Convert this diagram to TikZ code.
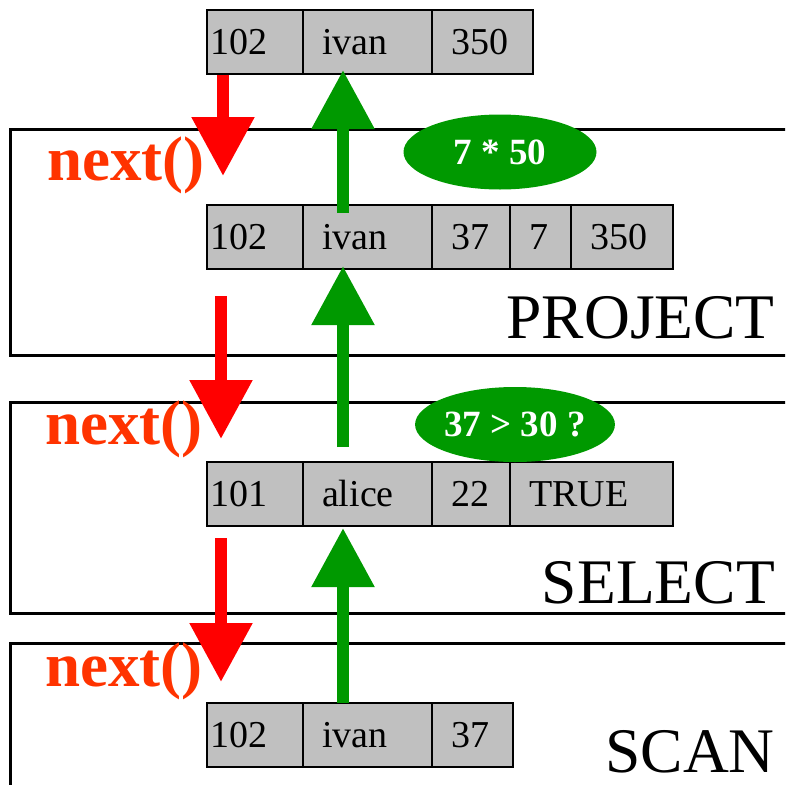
\documentclass[tikz,border=0pt]{standalone}
\usepackage{fontspec}
\setmainfont{Liberation Serif}
\usetikzlibrary{positioning,shapes.geometric,arrows.meta}

\definecolor{cellgray}{HTML}{C0C0C0}
\definecolor{nextred}{HTML}{FF3300}
\definecolor{callred}{HTML}{FF0000}
\definecolor{opgreen}{HTML}{009900}

\begin{document}
\begin{tikzpicture}
                                [
                                    x=1pt, y=-1pt,
                                    field/.style = {draw, fill=cellgray, shape=rectangle, line width=2pt, outer sep=0pt, inner ysep=0pt, minimum height=64pt, text height=44pt, text depth=20pt, align=left, inner xsep=19pt, font=\fontsize{38}{40}\selectfont},
                                    first/.style = {field, inner xsep=3pt, text width=90pt},
                                    oplabel/.style = {font=\fontsize{63.5}{66}\selectfont, inner sep=0pt, anchor=base east},
                                    nextcall/.style = {font=\fontsize{63}{65}\selectfont\bfseries, text=nextred, inner sep=0pt, anchor=base west},
                                    test/.style = {draw=none, fill=opgreen, shape=ellipse, minimum width=193pt, minimum height=75pt, inner sep=0pt, text=white, font=\fontsize{37}{39}\selectfont\bfseries},
                                    opbox/.style = {draw, line width=3pt},
                                    callarrow/.style = {draw=callred, line width=12pt, -{Triangle[length=59pt,width=60pt]}},
                                    rowarrow/.style = {draw=opgreen, line width=12pt, -{Triangle[length=59pt,width=60pt]}},
                                ]

                                \useasboundingbox (0,0) rectangle (785,785);
                                \clip (0,0) rectangle (785,785);

                                % operator boxes
                                \draw[opbox] (10,129.5) rectangle (800,355);
                                \draw[opbox] (10,402) rectangle (800,613);
                                \draw[opbox] (10,643) rectangle (800,820);

                                \node[oplabel] (projlabel) at (775,338) {PROJECT};
                                \node[oplabel] (sellabel) at (775,603) {SELECT};
                                \node[oplabel] (scanlabel) at (775,772) {SCAN};

                                \node[nextcall] (next1) at (47,180) {next()};
                                \node[nextcall] (next2) at (45,444) {next()};
                                \node[nextcall] (next3) at (45,686) {next()};

                                % output tuple
                                \node[first, anchor=north west] (t1) at (207,10) {102};
                                \node[field, text width=91pt, right=0pt of t1] (t2) {ivan};
                                \node[field, text width=63pt, right=0pt of t2] (t3) {350};

                                % project tuple
                                \node[first, anchor=north west] (p1) at (207,205) {102};
                                \node[field, text width=91pt, right=0pt of p1] (p2) {ivan};
                                \node[field, text width=40pt, right=0pt of p2] (p3) {37};
                                \node[field, text width=23pt, right=0pt of p3] (p4) {7};
                                \node[field, text width=64pt, right=0pt of p4] (p5) {350};

                                % select tuple
                                \node[first, anchor=north west] (s1) at (207,462) {101};
                                \node[field, text width=91pt, right=0pt of s1] (s2) {alice};
                                \node[field, text width=40pt, right=0pt of s2] (s3) {22};
                                \node[field, text width=125pt, right=0pt of s3] (s4) {TRUE};

                                % scan tuple
                                \node[first, anchor=north west] (c1) at (207,703) {102};
                                \node[field, text width=91pt, right=0pt of c1] (c2) {ivan};
                                \node[field, text width=43pt, right=0pt of c2] (c3) {37};

                                \node[test] (mult) at (500,152) {7 * 50};
                                \node[test] (cond) at (515,424.5) {37 > 30 ?};

                                % next() calls going down
                                \coordinate (r1a) at (223,75);
                                \coordinate (r1b) at (223,176);
                                \coordinate (r2a) at (221,296);
                                \coordinate (r2b) at (221,439);
                                \coordinate (r3a) at (221,538);
                                \coordinate (r3b) at (221,682);

                                % tuples going up
                                \coordinate (g1a) at (343,213);
                                \coordinate (g1b) at (343,70);
                                \coordinate (g2a) at (343,447);
                                \coordinate (g2b) at (343,266);
                                \coordinate (g3a) at (343,703);
                                \coordinate (g3b) at (343,528);

                                \draw[callarrow] (r1a) -- (r1b);
                                \draw[callarrow] (r2a) -- (r2b);
                                \draw[callarrow] (r3a) -- (r3b);

                                \draw[rowarrow] (g1a) -- (g1b);
                                \draw[rowarrow] (g2a) -- (g2b);
                                \draw[rowarrow] (g3a) -- (g3b);
                            \end{tikzpicture}
\end{document}
